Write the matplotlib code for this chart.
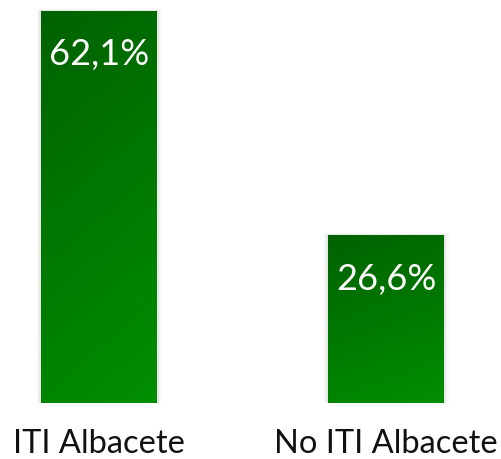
import numpy as np
import matplotlib.pyplot as plt
from matplotlib.colors import LinearSegmentedColormap

categories = ["ITI Albacete", "No ITI Albacete"]
values = [62.1, 26.6]
value_labels = ["62,1%", "26,6%"]

plt.rcParams['font.family'] = ['Lato', 'DejaVu Sans']

fig = plt.figure(figsize=(5.02, 4.60), dpi=100)
ax = fig.add_axes([0, 56 / 460, 1, 404 / 460])
ax.axis('off')

cmap = LinearSegmentedColormap.from_list('g', ['#006200', '#008e00'])
# diagonal gradient, dark top-left -> bright bottom-right
gy, gx = np.mgrid[0:1:200j, 0:1:100j]
grad = 0.8 * gy + 0.2 * gx

width = 0.404
x = np.arange(len(categories))
bars = ax.bar(x, values, width=width, color='none', edgecolor='none')
for i, b in enumerate(bars):
    x0, w, h = b.get_x(), b.get_width(), b.get_height()
    # soft shadow
    for k, a in zip([0.016, 0.011, 0.006], [0.02, 0.03, 0.04]):
        ax.add_patch(plt.Rectangle((x0 - k, 0), w + 2 * k, h + k * 20,
                                   color='black', alpha=a, lw=0, zorder=1))
    im = ax.imshow(grad, cmap=cmap, extent=[x0, x0 + w, 0, h], origin='upper',
                   aspect='auto', zorder=2)
    rect = plt.Rectangle((x0, 0), w, h, transform=ax.transData, fc='none', ec='none')
    ax.add_patch(rect)
    im.set_clip_path(rect)
    ax.annotate(value_labels[i], (x[i], h), xytext=(0, -43), textcoords='offset pixels',
                ha='center', va='center', color='white', fontsize=26, zorder=3)
    fig.text((x[i] + 0.345) / 1.749, 16 / 460, categories[i], ha='center', va='center',
             fontsize=23.5, color='#111111')

ax.set_xlim(-0.345, 1.404)
ax.set_ylim(0, 64.0)
fig.savefig('out.png', dpi=100)
